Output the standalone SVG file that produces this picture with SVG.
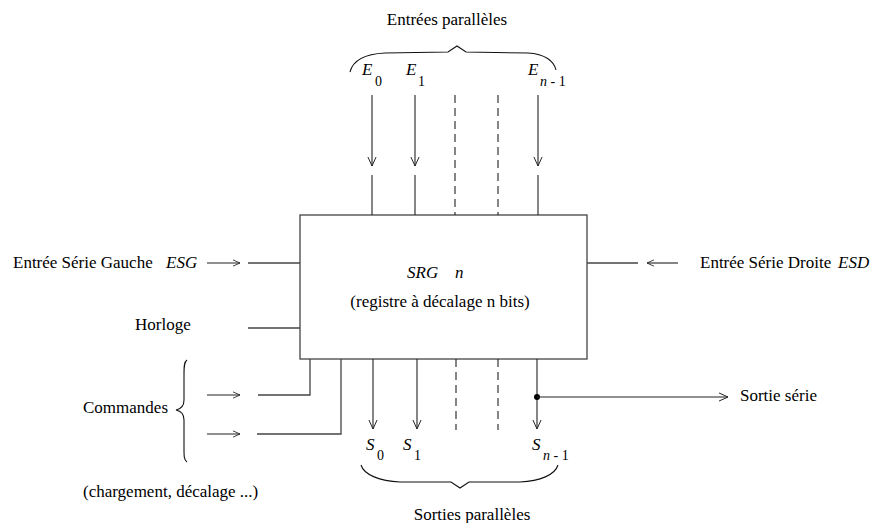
<svg xmlns="http://www.w3.org/2000/svg" width="875" height="523" viewBox="0 0 875 523">
<defs>
<style>
text{font-family:"Liberation Serif","Times New Roman",serif;font-size:17px;fill:#000}
.it{font-style:italic}
.sub{font-size:14px}
.ln{stroke:#444;stroke-width:1.3;fill:none}
.ar{stroke:#222;stroke-width:1.1;fill:none}
.da{stroke:#222;stroke-width:1.1;fill:none;stroke-dasharray:8,5}
.br{stroke:#111;stroke-width:1.1;fill:none}
</style>
<marker id="v" viewBox="0 0 10 10" refX="10" refY="5" markerWidth="9" markerHeight="10" orient="auto" markerUnits="userSpaceOnUse">
<path d="M0,0.5 L10,5 L0,9.5" fill="none" stroke="#222" stroke-width="1.1"/>
</marker>
<marker id="s" viewBox="0 0 10 10" refX="10" refY="5" markerWidth="7" markerHeight="8" orient="auto" markerUnits="userSpaceOnUse">
<path d="M0,0.5 L10,5 L0,9.5" fill="none" stroke="#222" stroke-width="1.2"/>
</marker>
</defs>
<rect width="875" height="523" fill="#fff"/>

<g id="register">
<rect x="300" y="215" width="287" height="144" class="ln"/>
<text x="407" y="278" class="it">SRG</text>
<text x="455" y="278" class="it">n</text>
<text x="440" y="307" text-anchor="middle">(registre à décalage n bits)</text>
</g>

<g id="parallel-inputs">
<text x="447" y="25" text-anchor="middle">Entrées parallèles</text>
<path class="br" d="M350,72 C353,60 365,54 385,53 L448,52 L457,46 L466,52 L528,53 C545,54 554,61 556,70"/>
<text x="362" y="75" class="it">E</text><text x="375" y="86" class="sub">0</text>
<text x="406" y="75" class="it">E</text><text x="418" y="86" class="sub">1</text>
<text x="528" y="75" class="it">E</text><text x="540" y="86" class="sub"><tspan class="it">n</tspan> - 1</text>
</g>

<g id="parallel-outputs">
<text x="366" y="450" class="it">S</text><text x="377" y="460" class="sub">0</text>
<text x="403" y="450" class="it">S</text><text x="414" y="460" class="sub">1</text>
<text x="532" y="450" class="it">S</text><text x="543" y="460" class="sub"><tspan class="it">n</tspan> - 1</text>
<path class="br" d="M361,465 C364,475 380,481 400,482 L451,482 L460,488 L469,482 L520,482 C540,481 555,475 558,465"/>
<text x="472" y="520" text-anchor="middle">Sorties parallèles</text>
</g>

<g id="esg">
<text x="13" y="268">Entrée Série Gauche</text>
<text x="166" y="268" class="it">ESG</text>
</g>

<g id="horloge">
<text x="135" y="330">Horloge</text>
</g>

<g id="esd">
<text x="700" y="268">Entrée Série Droite</text>
<text x="838" y="268" class="it">ESD</text>
</g>

<g id="commandes">
<text x="83" y="413">Commandes</text>
<path class="br" d="M187,360 C184,362 184,367 184,374 L184,400 C184,406 181,409 176,410 C181,411 184,414 184,420 L184,449 C184,456 184,460 187,462"/>
<text x="83" y="497">(chargement, décalage ...)</text>
</g>

<g id="sortie-serie">
<text x="740" y="401">Sortie série</text>
</g>

<g id="connectors">
<line x1="372" y1="95" x2="372" y2="166" class="ar" marker-end="url(#v)"/>
<line x1="372" y1="175" x2="372" y2="215" class="ar"/>
<line x1="415" y1="95" x2="415" y2="166" class="ar" marker-end="url(#v)"/>
<line x1="415" y1="175" x2="415" y2="215" class="ar"/>
<line x1="538" y1="95" x2="538" y2="166" class="ar" marker-end="url(#v)"/>
<line x1="538" y1="175" x2="538" y2="215" class="ar"/>
<line x1="455" y1="95" x2="455" y2="215" class="da"/>
<line x1="498" y1="95" x2="498" y2="215" class="da"/>
<line x1="373" y1="359" x2="373" y2="429" class="ar" marker-end="url(#v)"/>
<line x1="417" y1="359" x2="417" y2="429" class="ar" marker-end="url(#v)"/>
<line x1="537" y1="359" x2="537" y2="429" class="ar" marker-end="url(#v)"/>
<line x1="456" y1="359" x2="456" y2="430" class="da"/>
<line x1="498" y1="359" x2="498" y2="430" class="da"/>
<circle cx="537" cy="397" r="3" fill="#000"/>
<line x1="537" y1="397" x2="728" y2="397" class="ar" marker-end="url(#v)"/>
<line x1="207" y1="263" x2="240" y2="263" class="ar" marker-end="url(#s)"/>
<line x1="248" y1="263" x2="300" y2="263" class="ln"/>
<line x1="248" y1="328" x2="300" y2="328" class="ln"/>
<line x1="587" y1="263" x2="638" y2="263" class="ln"/>
<line x1="678" y1="263" x2="647" y2="263" class="ar" marker-end="url(#s)"/>
<line x1="207" y1="395" x2="240" y2="395" class="ar" marker-end="url(#s)"/>
<line x1="207" y1="434" x2="240" y2="434" class="ar" marker-end="url(#s)"/>
<polyline points="258,395 310,395 310,359" class="ln"/>
<polyline points="257,434 341,434 341,359" class="ln"/>
</g>
</svg>
